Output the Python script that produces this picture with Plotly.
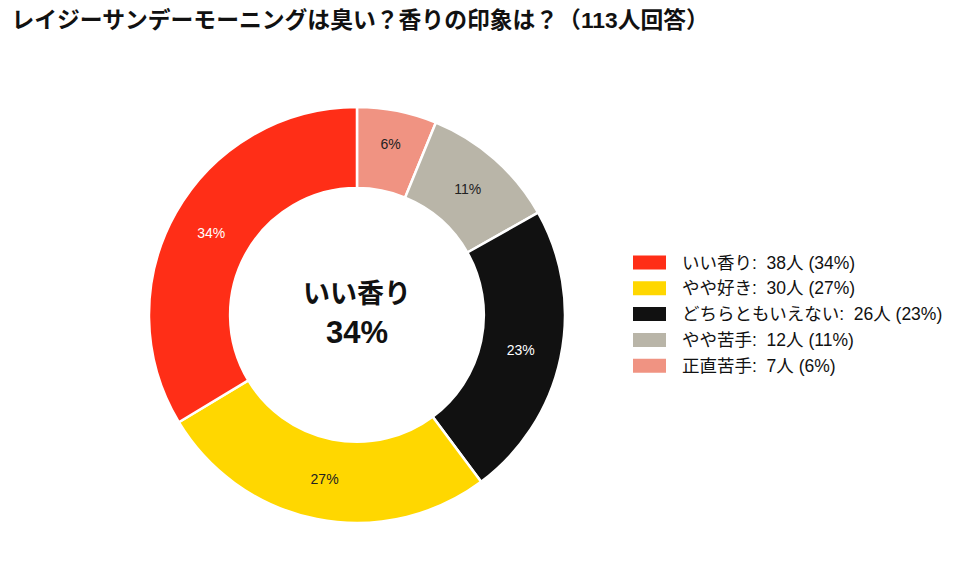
import plotly.graph_objects as go

categories = ["いい香り", "やや好き", "どちらともいえない", "やや苦手", "正直苦手"]
counts = [38, 30, 26, 12, 7]
colors = ["#FF2E17", "#FFD700", "#111111", "#B9B5A8", "#F09382"]
text_colors = ["#FFFFFF", "#222222", "#FFFFFF", "#222222", "#222222"]
total = sum(counts)
pcts = [round(v / total * 100) for v in counts]
legend_labels = [f"{c}:\u00a0\u00a0{v}人 ({p}%)" for c, v, p in zip(categories, counts, pcts)]

font = "Liberation Sans, Noto Sans CJK JP, sans-serif"
W, H = 955, 586

# slices go counterclockwise from 12 o'clock: pass reversed order clockwise
fig = go.Figure(go.Pie(
    labels=categories[::-1],
    values=counts[::-1],
    customdata=[f"{p}%" for p in pcts][::-1],
    texttemplate="%{customdata}",
    textposition="inside",
    insidetextorientation="horizontal",
    textfont=dict(size=14, color=text_colors[::-1], family=font),
    marker=dict(colors=colors[::-1], line=dict(color="white", width=2.5)),
    hole=0.61,
    sort=False,
    direction="clockwise",
    rotation=0,
    showlegend=False,
    domain=dict(x=[0.156, 0.5916], y=[0.1076, 0.8175]),
))

# center label
fig.add_annotation(
    x=0.3738, y=0.4625, xref="paper", yref="paper",
    text=f"<b><span style='font-size:27px'>{categories[0]}</span><br>{pcts[0]}%</b>",
    showarrow=False, font=dict(size=31, color="#111111", family=font),
    align="center",
)

# legend (swatch + label per category)
leg_x0, leg_top, leg_step = 633, 262.5, 25.8
for i, (lab, col) in enumerate(zip(legend_labels, colors)):
    yc = leg_top + i * leg_step
    fig.add_shape(type="rect", xref="paper", yref="paper",
                  x0=leg_x0 / W, x1=(leg_x0 + 33) / W,
                  y0=1 - (yc - 7) / H, y1=1 - (yc + 7) / H,
                  fillcolor=col, line=dict(width=0))
    fig.add_annotation(x=(leg_x0 + 47) / W, y=1 - yc / H, xref="paper", yref="paper",
                       text=lab, showarrow=False, xanchor="left", yanchor="middle",
                       font=dict(size=17.5, color="#111111", family=font))

fig.update_layout(
    width=W, height=H,
    margin=dict(l=0, r=0, t=0, b=0),
    paper_bgcolor="white",
    title=dict(text="<b>レイジーサンデーモーニングは臭い？香りの印象は？（113人回答）</b>",
               x=0.012, xanchor="left", y=0.966, yanchor="middle", yref="container",
               font=dict(size=22.8, color="#111111", family=font)),
    showlegend=False,
)

fig.write_html("out.html")
